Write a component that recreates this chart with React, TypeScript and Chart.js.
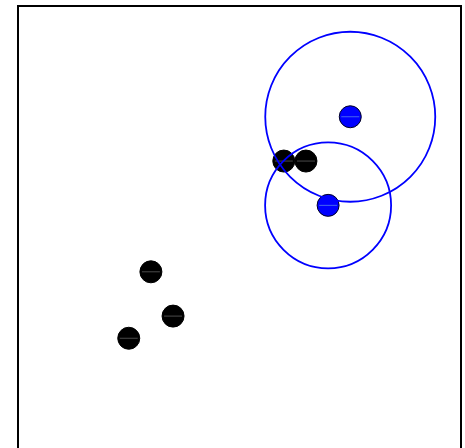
import React, { useEffect, useRef } from "react";
import { Chart, registerables } from "chart.js";

Chart.register(...registerables);

// Plain points
const blackX = [3, 3.5, 2.5, 6, 6.5];
const blackY = [4, 3, 2.5, 6.5, 6.5];

// Highlighted points, each with a ring around it
const blueX = [7.5, 7];
const blueY = [7.5, 5.5];
const ringRadiusPx = [85, 63];

const axisMin = 0;
const axisMax = 10;

const toPoints = (xs: number[], ys: number[]) => xs.map((x, i) => ({ x, y: ys[i] }));

const frame = {
  id: "frame",
  beforeDatasetsDraw(chart: any) {
    const { ctx, chartArea: a } = chart;
    ctx.save();
    ctx.strokeStyle = "#000";
    ctx.lineWidth = 2;
    ctx.strokeRect(a.left, a.top, a.right - a.left, a.bottom - a.top);
    ctx.restore();
  },
};

export default function App() {
  const ref = useRef<HTMLCanvasElement | null>(null);

  useEffect(() => {
    document.body.style.margin = "0";
    if (!ref.current) return;
    const chart = new Chart(ref.current, {
      type: "scatter",
      data: {
        datasets: [
          {
            type: "bubble",
            data: blueX.map((x, i) => ({ x, y: blueY[i], r: ringRadiusPx[i] })),
            backgroundColor: "rgba(0,0,0,0)",
            borderColor: "#0000ff",
            borderWidth: 1.8,
            order: 0,
          } as any,
          {
            data: toPoints(blackX, blackY),
            pointStyle: "line",
            radius: 9,
            borderColor: "#4a4a4a",
            borderWidth: 1,
            order: 1,
          },
          {
            data: toPoints(blueX, blueY),
            pointStyle: "line",
            radius: 9,
            borderColor: "#4466ee",
            borderWidth: 1,
            order: 1,
          },
          {
            data: toPoints(blackX, blackY),
            pointStyle: "circle",
            radius: 11,
            backgroundColor: "#000",
            borderColor: "#000",
            borderWidth: 1,
            order: 2,
          },
          {
            data: toPoints(blueX, blueY),
            pointStyle: "circle",
            radius: 11,
            backgroundColor: "#0000ff",
            borderColor: "#000022",
            borderWidth: 1,
            order: 2,
          },
        ],
      },
      options: {
        animation: false,
        responsive: false,
        layout: { autoPadding: false, padding: { left: 18, top: 6, right: 4, bottom: 6 } },
        plugins: { legend: { display: false }, tooltip: { enabled: false } },
        scales: {
          x: { type: "linear", display: false, min: axisMin, max: axisMax },
          y: { type: "linear", display: false, min: axisMin, max: axisMax },
        },
      },
      plugins: [frame],
    });
    return () => chart.destroy();
  }, []);

  return (
    <div style={{ width: 465, height: 455 }}>
      <canvas ref={ref} width={465} height={455} style={{ display: "block" }} />
    </div>
  );
}
